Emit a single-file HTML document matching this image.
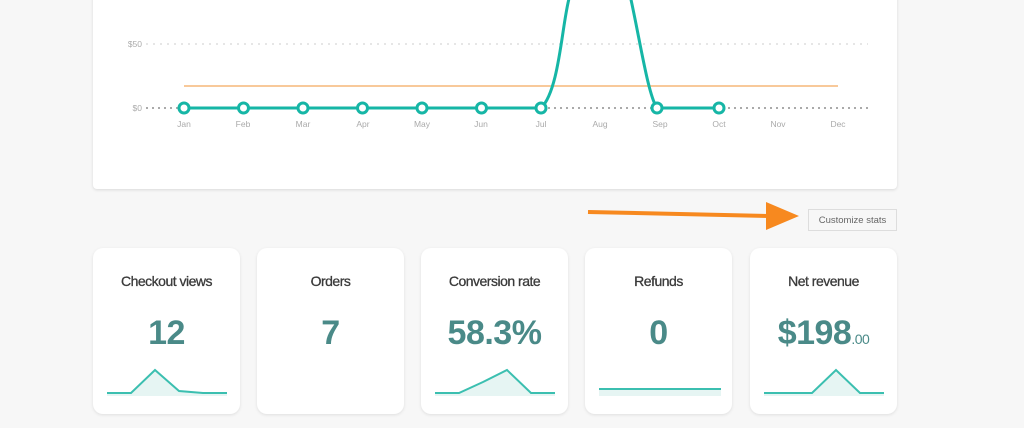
<!DOCTYPE html>
<html><head><style>
body{margin:0;width:1024px;height:428px;background:#f7f7f7;font-family:"Liberation Sans",sans-serif;position:relative;overflow:hidden}
.panel{position:absolute;left:93px;top:-10px;width:804px;height:199px;background:#fff;border-radius:4px;box-shadow:0 1px 3px rgba(0,0,0,.12)}
.card{position:absolute;top:248px;width:147px;height:166px;background:#fff;border-radius:10px;box-shadow:0 1px 3px rgba(0,0,0,.1);text-align:center}
.t{position:absolute;top:25px;width:100%;font-size:14px;color:#3a3a3a;letter-spacing:-0.5px;-webkit-text-stroke:0.3px #3a3a3a}
.v{position:absolute;top:66px;width:100%;font-size:34px;font-weight:bold;color:#4a8a88;letter-spacing:-0.5px}
.v small{font-size:14px;font-weight:normal}
.btn{position:absolute;left:808px;top:209px;width:89px;height:22px;border:1px solid #ddd;background:#f7f7f7;font-size:9.5px;color:#666;text-align:center;line-height:22px;box-sizing:border-box}
</style></head><body>
<div class="panel"></div>
<svg width="1024" height="428" style="position:absolute;left:0;top:0">
<g font-size="8.5" fill="#aaa" font-family="Liberation Sans">
<text x="142" y="47" text-anchor="end">$50</text>
<text x="142" y="111" text-anchor="end">$0</text>
</g>
<line x1="146" y1="44" x2="868" y2="44" stroke="#ccc" stroke-dasharray="2,5"/>
<line x1="146" y1="108" x2="868" y2="108" stroke="#aaa" stroke-width="2" stroke-dasharray="2,4"/>
<line x1="184" y1="86" x2="838" y2="86" stroke="#f8c99a" stroke-width="2"/>
<path d="M184 108 L541 108 C560 90 562 20 570 -5 M630 -5 C640 40 648 95 657 108 L719 108" fill="none" stroke="#16b6a6" stroke-width="3"/>
<g fill="#fff" stroke="#16b6a6" stroke-width="3">
<circle cx="184" cy="108" r="5"/><circle cx="243.5" cy="108" r="5"/><circle cx="303" cy="108" r="5"/><circle cx="362.5" cy="108" r="5"/><circle cx="422" cy="108" r="5"/><circle cx="481.5" cy="108" r="5"/><circle cx="541" cy="108" r="5"/><circle cx="657" cy="108" r="5"/><circle cx="719" cy="108" r="5"/>
</g>
<g font-size="8.5" fill="#aaa" text-anchor="middle" font-family="Liberation Sans">
<text x="184" y="127">Jan</text><text x="243" y="127">Feb</text><text x="303" y="127">Mar</text><text x="363" y="127">Apr</text><text x="422" y="127">May</text><text x="481" y="127">Jun</text><text x="541" y="127">Jul</text><text x="600" y="127">Aug</text><text x="660" y="127">Sep</text><text x="719" y="127">Oct</text><text x="778" y="127">Nov</text><text x="838" y="127">Dec</text>
</g>
<line x1="588" y1="212" x2="770" y2="216" stroke="#f7891f" stroke-width="4"/>
<polygon points="766,202 799,216 766,230" fill="#f7891f"/>
</svg>
<div class="btn">Customize stats</div>
<div class="card" style="left:93px"><div class="t">Checkout views</div><div class="v">12</div></div>
<div class="card" style="left:257px"><div class="t">Orders</div><div class="v">7</div></div>
<div class="card" style="left:421px"><div class="t">Conversion rate</div><div class="v">58.3%</div></div>
<div class="card" style="left:585px"><div class="t">Refunds</div><div class="v">0</div></div>
<div class="card" style="left:750px"><div class="t">Net revenue</div><div class="v">$198<small>.00</small></div></div>
<svg width="1024" height="428" style="position:absolute;left:0;top:0">
<g fill="#e6f5f3" stroke="none">
<polygon points="107,396 107,393 131,393 155,370 179,391 203,393 227,393 227,396"/>
<polygon points="435,396 435,393 459,393 483,382 507,370 531,393 555,393 555,396"/>
<rect x="599" y="389" width="122" height="7"/>
<polygon points="764,396 764,393 812,393 836,370 860,393 884,393 884,396"/>
</g>
<g fill="none" stroke="#3bbfb0" stroke-width="2">
<polyline points="107,393 131,393 155,370 179,391 203,393 227,393"/>
<polyline points="435,393 459,393 483,382 507,370 531,393 555,393"/>
<line x1="599" y1="389" x2="721" y2="389"/>
<polyline points="764,393 812,393 836,370 860,393 884,393"/>
</g>
</svg>
</body></html>
